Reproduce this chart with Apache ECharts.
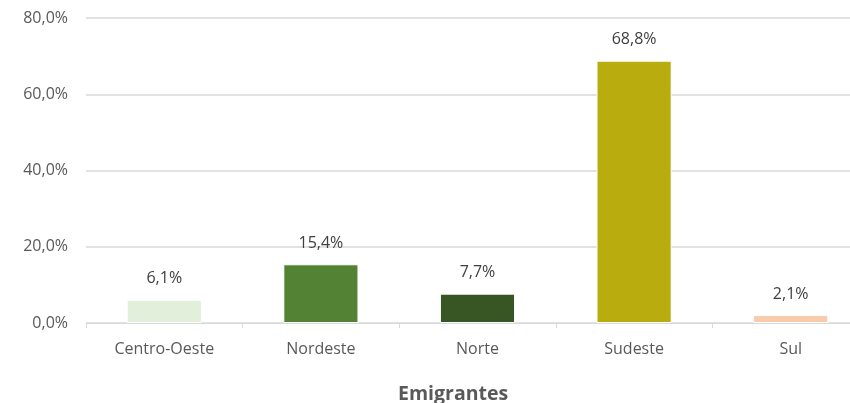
<!DOCTYPE html>
<html>
<head>
    <meta charset="utf-8">
    <title>Emigrantes</title>
    <script src="https://cdn.jsdelivr.net/npm/echarts@6/dist/echarts.min.js"></script>
    <style>
        body, html {
            margin: 0;
            height: 100%;
            background: #fff;
        }

        #main {
            width: 850px;
            height: 403px;
        }
    </style>
</head>
<body>
<div id="main"></div>
<script type="text/javascript">
    var regions = ['Centro-Oeste', 'Nordeste', 'Norte', 'Sudeste', 'Sul'];
    var shares = [6.1, 15.4, 7.7, 68.8, 2.1];
    var barColors = ['#e2efda', '#548235', '#375623', '#b8ac0f', '#f8cbad'];
    var yTicks = [0, 20, 40, 60, 80];

    function pct(v) {
        return v.toFixed(1).replace('.', ',') + '%';
    }

    var myChart = echarts.init(document.getElementById('main'));

    var option = {
        backgroundColor: '#fff',
        animation: false,
        textStyle: {
            fontFamily: '"Open Sans", sans-serif'
        },
        title: {
            text: 'Emigrantes',
            left: 398,
            top: 384,
            padding: 0,
            textStyle: {
                fontSize: 19.5,
                fontWeight: 'bold',
                color: '#595959'
            }
        },
        // plot runs past the right edge of the window, like the source picture
        grid: {
            left: 86,
            width: 783,
            top: 18,
            bottom: 80,
            containLabel: false,
            outerBoundsMode: 'none'
        },
        xAxis: {
            type: 'category',
            data: regions,
            axisLine: {lineStyle: {color: '#d9d9d9', width: 1}},
            axisTick: {show: true, length: 5, lineStyle: {color: '#d9d9d9'}},
            axisLabel: {
                margin: 18,
                fontSize: 16,
                color: '#595959'
            }
        },
        yAxis: {
            type: 'value',
            min: yTicks[0],
            max: yTicks[yTicks.length - 1],
            interval: 20,
            axisLine: {show: false},
            axisTick: {show: false},
            splitLine: {lineStyle: {color: '#d9d9d9', width: 1.5}},
            axisLabel: {
                margin: 18,
                fontSize: 16,
                color: '#595959',
                formatter: function (v) {
                    return pct(v);
                }
            }
        },
        series: [
            {
                type: 'bar',
                barWidth: '48%',
                data: shares.map(function (v, i) {
                    return {
                        value: v,
                        itemStyle: {color: barColors[i], borderColor: '#fff', borderWidth: 1}
                    };
                }),
                label: {
                    show: true,
                    position: 'top',
                    distance: 13,
                    fontSize: 16,
                    color: '#404040',
                    formatter: function (p) {
                        return pct(p.value);
                    }
                }
            }
        ]
    };

    myChart.setOption(option);
</script>
</body>
</html>
